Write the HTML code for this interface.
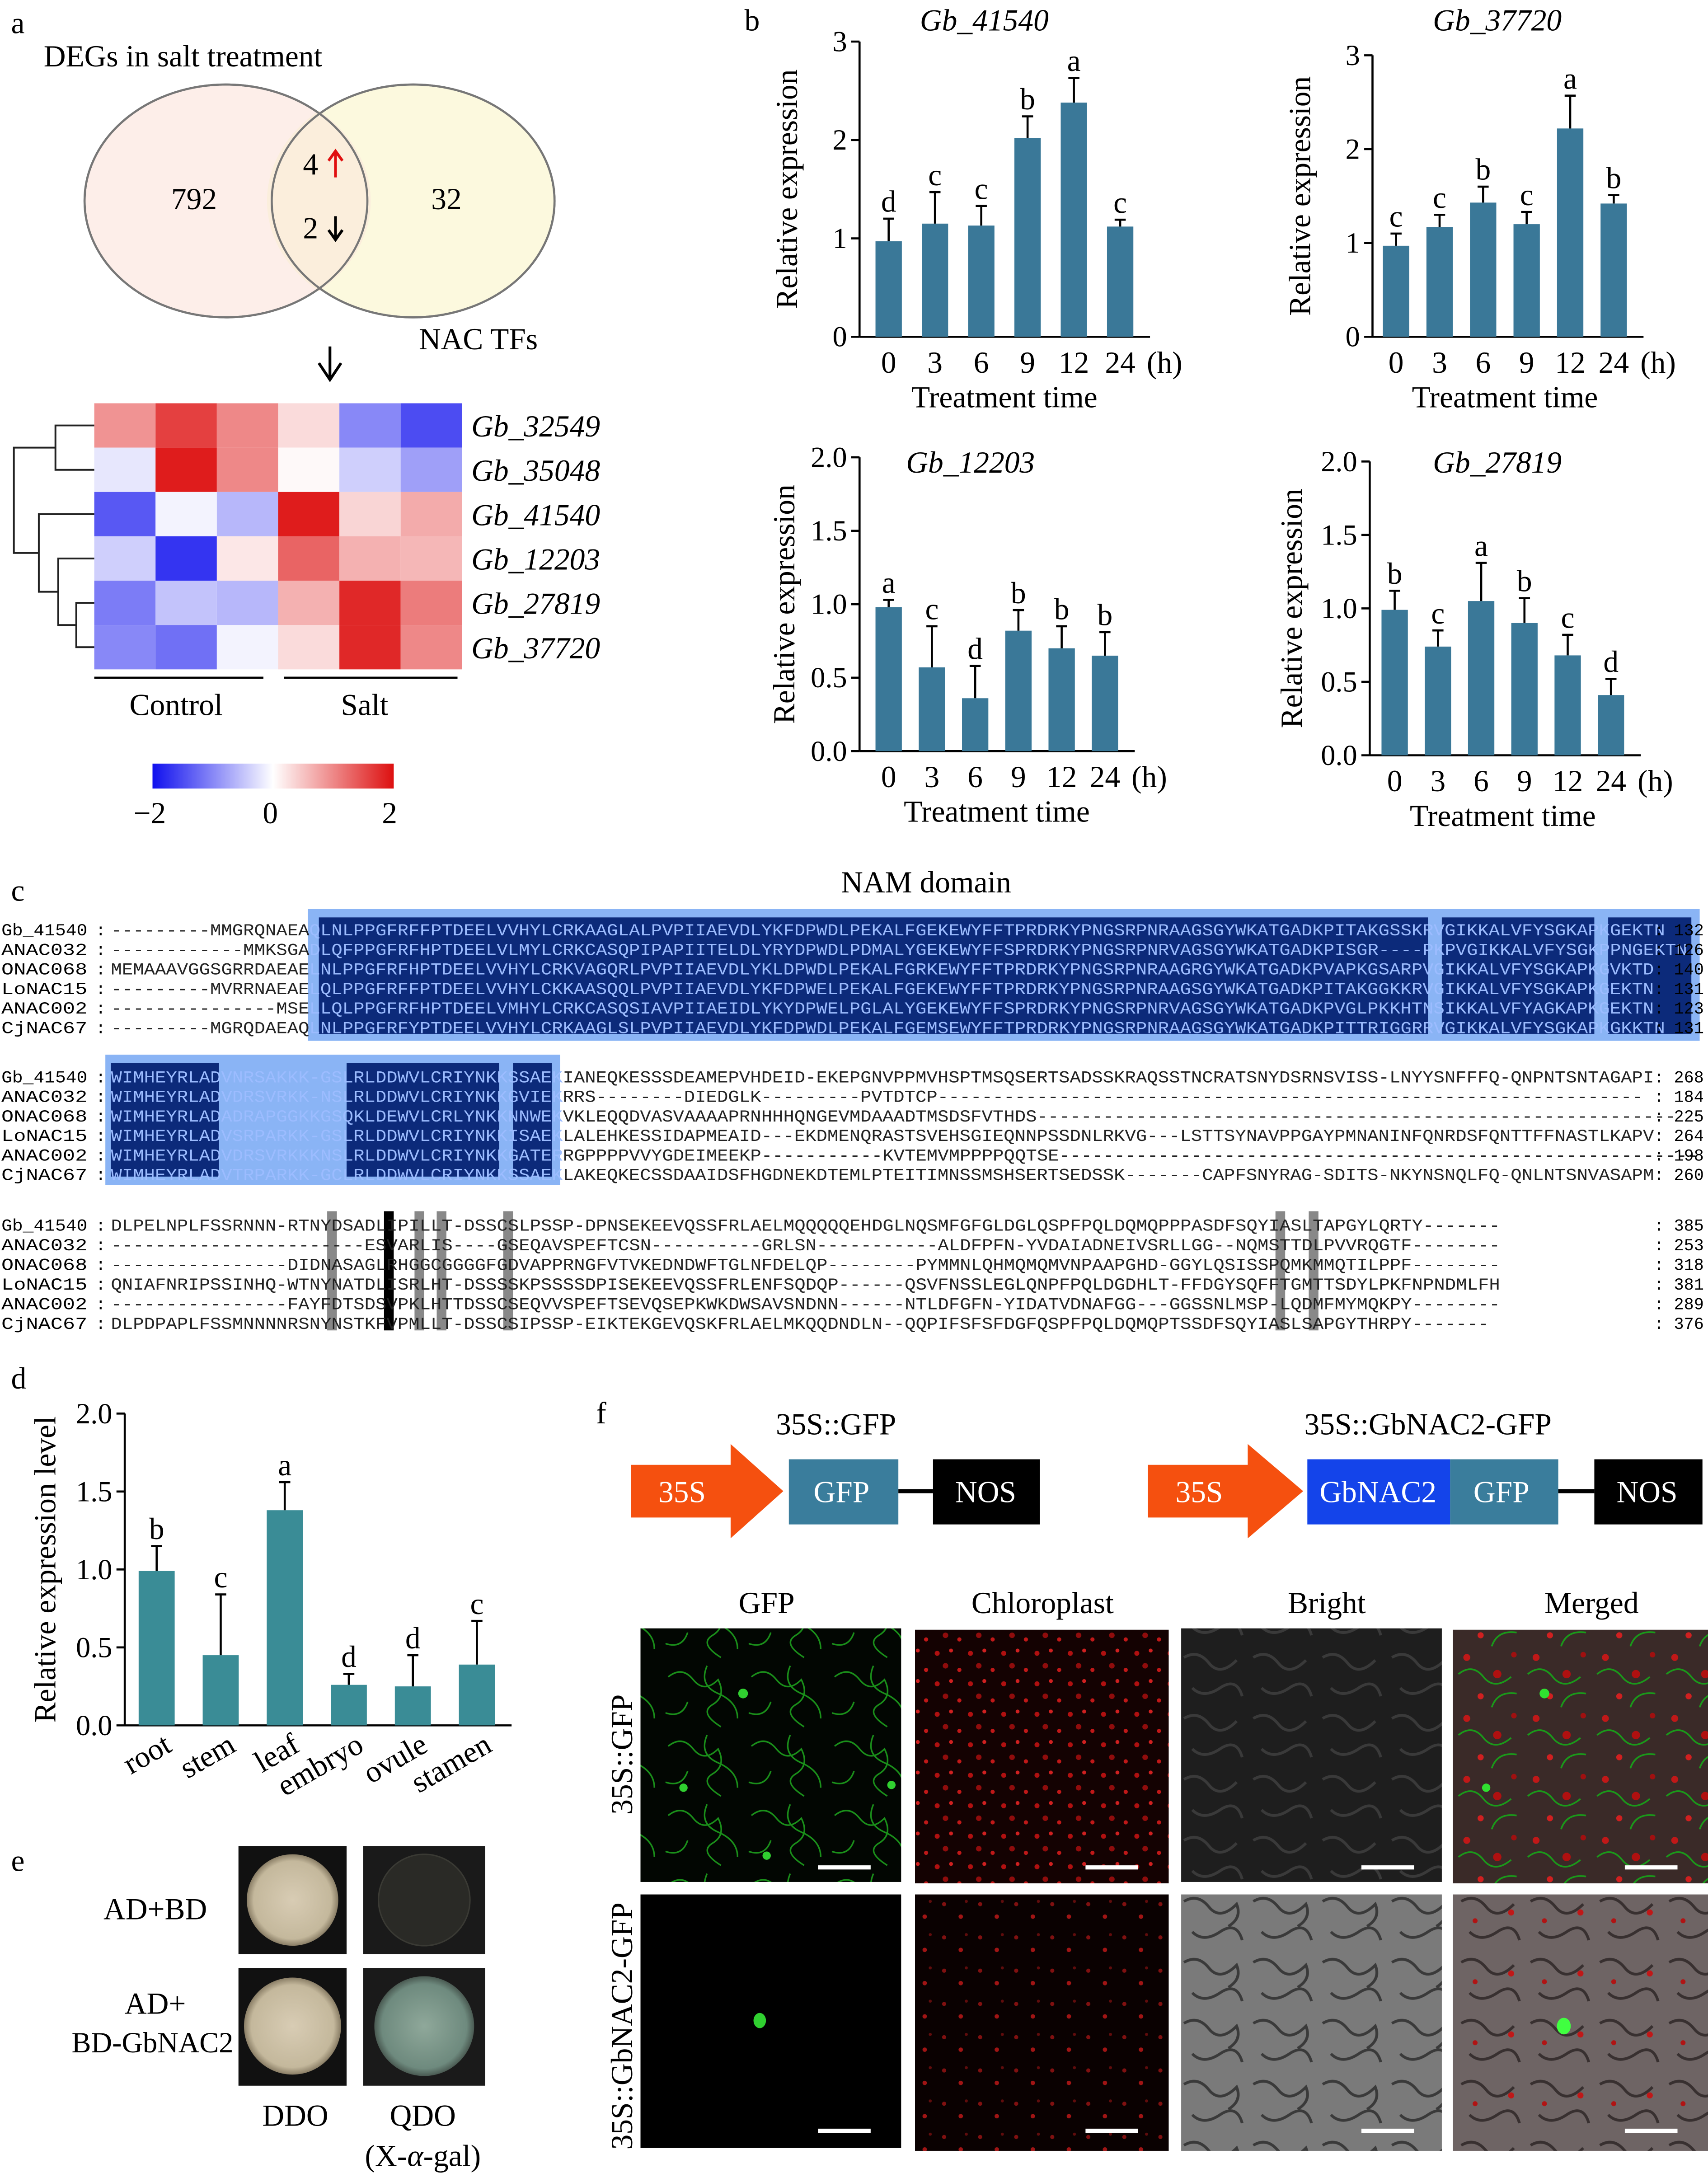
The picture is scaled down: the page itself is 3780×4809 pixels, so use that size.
<!DOCTYPE html>
<html><head><meta charset="utf-8"><style>
html,body{margin:0;padding:0;background:#fff}
svg{display:block}
text{font-family:"Liberation Serif",serif}
.mono{font-family:"Liberation Mono",monospace;font-size:12px}
</style></head><body>
<svg id="fig" xmlns="http://www.w3.org/2000/svg" width="3780" height="4809" viewBox="0 0 1232 1568" preserveAspectRatio="none">
<defs>
<pattern id="pGfp" width="60" height="50" patternUnits="userSpaceOnUse"><rect width="60" height="50" fill="#020602"/><path d="M2 10 q10 -8 18 2 t18 0 q6 12 -4 18 t6 16 M30 2 q-6 14 8 20 t14 18 M0 36 q12 4 16 -8" stroke="#1a901a" stroke-width="1.1" fill="none"/></pattern>
<pattern id="pChl" width="24" height="22" patternUnits="userSpaceOnUse"><rect width="24" height="22" fill="#140202"/><circle cx="4" cy="5" r="1.8" fill="#b01010"/><circle cx="14" cy="3" r="1.4" fill="#d02020"/><circle cx="10" cy="14" r="2" fill="#900c0c"/><circle cx="20" cy="17" r="1.5" fill="#c01818"/></pattern>
<pattern id="pChl2" width="26" height="24" patternUnits="userSpaceOnUse"><rect width="26" height="24" fill="#0a0101"/><circle cx="5" cy="6" r="1.5" fill="#801010"/><circle cx="17" cy="15" r="1.6" fill="#a01414"/><circle cx="21" cy="4" r="1.1" fill="#600c0c"/></pattern>
<pattern id="pBr" width="50" height="44" patternUnits="userSpaceOnUse"><rect width="50" height="44" fill="#1e1e1e"/><path d="M4 8 q10 -6 18 4 t20 -2 M10 30 q8 8 20 0 t16 6" stroke="#3a3a3a" stroke-width="2" fill="none"/></pattern>
<pattern id="pBr2" width="50" height="44" patternUnits="userSpaceOnUse"><rect width="50" height="44" fill="#7a7a7a"/><path d="M4 8 q10 -6 18 4 t20 -2 q4 10 -6 16 M10 30 q8 8 20 0 t16 6" stroke="#3a3a3a" stroke-width="2" fill="none"/></pattern>
<pattern id="pMer" width="50" height="44" patternUnits="userSpaceOnUse"><rect width="50" height="44" fill="#3a2a28"/><circle cx="8" cy="8" r="2.5" fill="#c01818"/><circle cx="30" cy="20" r="3" fill="#b01010"/><circle cx="18" cy="36" r="2.2" fill="#d02020"/><circle cx="42" cy="6" r="2" fill="#a01010"/><path d="M2 20 q10 -8 18 2 t20 0 M26 44 q4 -12 18 -10" stroke="#1a9a1a" stroke-width="1.2" fill="none"/></pattern>
<pattern id="pMer2" width="50" height="44" patternUnits="userSpaceOnUse"><rect width="50" height="44" fill="#6e6464"/><path d="M4 8 q10 -6 18 4 t20 -2 M10 30 q8 8 20 0 t16 6" stroke="#383030" stroke-width="2" fill="none"/><circle cx="40" cy="16" r="2.2" fill="#c01818"/><circle cx="14" cy="22" r="1.8" fill="#b01414"/></pattern>
<radialGradient id="plate1"><stop offset="0" stop-color="#d8ccb4"/><stop offset="0.85" stop-color="#c4b89c"/><stop offset="1" stop-color="#8a7e66"/></radialGradient>
<radialGradient id="plate2"><stop offset="0" stop-color="#8fa89a"/><stop offset="0.85" stop-color="#6e8a7e"/><stop offset="1" stop-color="#4a5a52"/></radialGradient>
<linearGradient id="cbar" x1="0" x2="1"><stop offset="0" stop-color="#1010ee"/><stop offset="0.5" stop-color="#ffffff"/><stop offset="1" stop-color="#dd1010"/></linearGradient>
</defs>

<!-- Panel a -->
<text x="8" y="24" font-size="22">a</text>
<text x="132" y="48" font-size="22" text-anchor="middle">DEGs in salt treatment</text>
<ellipse cx="163" cy="145" rx="102" ry="84" fill="#fdeee9" stroke="#777" stroke-width="1.5"/>
<ellipse cx="298" cy="145" rx="102" ry="84" fill="#fcf8d8" fill-opacity="0.85" stroke="#777" stroke-width="1.5"/>
<path d="M230 80 A102 84 0 0 1 230 210 A102 84 0 0 1 230 80Z" fill="#fbeedc"/>
<ellipse cx="163" cy="145" rx="102" ry="84" fill="none" stroke="#777" stroke-width="1.5"/>
<ellipse cx="298" cy="145" rx="102" ry="84" fill="none" stroke="#777" stroke-width="1.5"/>
<text x="140" y="151" font-size="22" text-anchor="middle">792</text>
<text x="322" y="151" font-size="22" text-anchor="middle">32</text>
<text x="224" y="126" font-size="22" text-anchor="middle">4</text>
<path d="M242 128 L242 110 M237 116 L242 109 L247 116" stroke="#e01010" stroke-width="2" fill="none"/>
<text x="224" y="172" font-size="22" text-anchor="middle">2</text>
<path d="M242 156 L242 172 M237 166 L242 173 L247 166" stroke="#000" stroke-width="2" fill="none"/>
<text x="345" y="252" font-size="22" text-anchor="middle">NAC TFs</text>
<path d="M238 250 L238 272 M230 262 L238 274 L246 262" stroke="#000" stroke-width="2" fill="none"/>
<g id="heatmap"></g>
<path d="M68 307 H40 V339 H68 M68 435 H55 V467 H68 M68 403 H42 V451 H55 M68 371 H28 V427 H42 M40 323 H10 V399 H28" stroke="#222" stroke-width="1.3" fill="none"/>
<line x1="68" y1="489" x2="190" y2="489" stroke="#000" stroke-width="1.5"/>
<line x1="205" y1="489" x2="330" y2="489" stroke="#000" stroke-width="1.5"/>
<text x="127" y="516" font-size="22" text-anchor="middle">Control</text>
<text x="263" y="516" font-size="22" text-anchor="middle">Salt</text>
<rect x="110" y="551" width="174" height="18" fill="url(#cbar)"/>
<text x="108" y="594" font-size="22" text-anchor="middle">−2</text>
<text x="195" y="594" font-size="22" text-anchor="middle">0</text>
<text x="281" y="594" font-size="22" text-anchor="middle">2</text>

<!-- Panel b -->
<text x="537" y="22" font-size="22">b</text>
<g id="charts"></g>

<!-- Panel c -->
<text x="8" y="650" font-size="22">c</text>
<text x="668" y="644" font-size="22" text-anchor="middle">NAM domain</text>
<rect x="222" y="656" width="1004" height="95" fill="#8ab4f5"/>
<rect x="230" y="662" width="800" height="84" fill="#0c2a7a"/>
<rect x="1040" y="662" width="110" height="84" fill="#0c2a7a"/>
<rect x="1160" y="662" width="60" height="84" fill="#0c2a7a"/>
<rect x="76" y="761" width="328" height="94" fill="#8ab4f5"/>
<rect x="80" y="767" width="78" height="82" fill="#0c2a7a"/>
<rect x="250" y="767" width="110" height="82" fill="#0c2a7a"/>
<rect x="370" y="767" width="28" height="82" fill="#0c2a7a"/>
<rect x="277" y="874" width="7" height="86" fill="#000"/>
<rect x="236" y="874" width="7" height="86" fill="#888"/>
<rect x="299" y="874" width="7" height="86" fill="#888"/>
<rect x="315" y="874" width="7" height="86" fill="#888"/>
<rect x="363" y="874" width="7" height="86" fill="#888"/>
<rect x="920" y="874" width="7" height="86" fill="#888"/>
<rect x="944" y="874" width="7" height="86" fill="#888"/>
<g id="align"></g>

<!-- Panel d -->
<text x="8" y="1002" font-size="22">d</text>
<g id="chartD"></g>

<!-- Panel e -->
<text x="8" y="1350" font-size="22">e</text>
<text x="112" y="1385" font-size="22" text-anchor="middle">AD+BD</text>
<text x="112" y="1453" font-size="22" text-anchor="middle">AD+</text>
<text x="110" y="1481" font-size="21" text-anchor="middle">BD-GbNAC2</text>
<rect x="172" y="1332" width="78" height="78" fill="#111"/>
<circle cx="211" cy="1371" r="33" fill="url(#plate1)"/>
<rect x="262" y="1332" width="88" height="78" fill="#1a1a1a"/>
<circle cx="306" cy="1371" r="33" fill="#2a2a26" stroke="#3a3a34"/>
<rect x="172" y="1420" width="78" height="85" fill="#111"/>
<circle cx="211" cy="1462" r="35" fill="url(#plate1)"/>
<rect x="262" y="1420" width="88" height="85" fill="#1a1a1a"/>
<circle cx="306" cy="1462" r="36" fill="url(#plate2)"/>
<text x="213" y="1534" font-size="22" text-anchor="middle">DDO</text>
<text x="305" y="1534" font-size="22" text-anchor="middle">QDO</text>
<text x="305" y="1563" font-size="22" text-anchor="middle">(X-<tspan font-style="italic">α</tspan>-gal)</text>

<!-- Panel f -->
<text x="430" y="1027" font-size="22">f</text>
<text x="603" y="1035" font-size="22" text-anchor="middle">35S::GFP</text>
<polygon points="455,1057 527,1057 527,1042 565,1076 527,1110 527,1095 455,1095" fill="#f5500f"/>
<text x="492" y="1084" font-size="22" fill="#fff" text-anchor="middle">35S</text>
<rect x="569" y="1053" width="79" height="47" fill="#3a7d9c"/>
<text x="607" y="1084" font-size="22" fill="#fff" text-anchor="middle">GFP</text>
<line x1="648" y1="1076" x2="673" y2="1076" stroke="#000" stroke-width="3"/>
<rect x="673" y="1053" width="77" height="47" fill="#000"/>
<text x="711" y="1084" font-size="22" fill="#fff" text-anchor="middle">NOS</text>
<text x="1030" y="1035" font-size="22" text-anchor="middle">35S::GbNAC2-GFP</text>
<polygon points="828,1057 900,1057 900,1042 940,1076 900,1110 900,1095 828,1095" fill="#f5500f"/>
<text x="865" y="1084" font-size="22" fill="#fff" text-anchor="middle">35S</text>
<rect x="943" y="1053" width="103" height="47" fill="#1444ea"/>
<text x="994" y="1084" font-size="22" fill="#fff" text-anchor="middle">GbNAC2</text>
<rect x="1046" y="1053" width="78" height="47" fill="#3a7d9c"/>
<text x="1083" y="1084" font-size="22" fill="#fff" text-anchor="middle">GFP</text>
<line x1="1124" y1="1076" x2="1150" y2="1076" stroke="#000" stroke-width="3"/>
<rect x="1150" y="1053" width="78" height="47" fill="#000"/>
<text x="1188" y="1084" font-size="22" fill="#fff" text-anchor="middle">NOS</text>
<text x="553" y="1164" font-size="22" text-anchor="middle">GFP</text>
<text x="752" y="1164" font-size="22" text-anchor="middle">Chloroplast</text>
<text x="957" y="1164" font-size="22" text-anchor="middle">Bright</text>
<text x="1148" y="1164" font-size="22" text-anchor="middle">Merged</text>
<text transform="translate(456,1266) rotate(-90)" font-size="22" text-anchor="middle">35S::GFP</text>
<text transform="translate(456,1462) rotate(-90)" font-size="22" text-anchor="middle">35S::GbNAC2-GFP</text>
<rect x="462" y="1175" width="188" height="183" fill="url(#pGfp)"/>
<circle cx="536" cy="1222" r="3.5" fill="#30d030"/><circle cx="493" cy="1290" r="3" fill="#30d030"/><circle cx="553" cy="1339" r="3" fill="#30d030"/><circle cx="643" cy="1288" r="3" fill="#30d030"/>
<rect x="660" y="1176" width="183" height="183" fill="url(#pChl)"/>
<rect x="852" y="1175" width="188" height="183" fill="url(#pBr)"/>
<rect x="1048" y="1176" width="184" height="183" fill="url(#pMer)"/>
<circle cx="1114" cy="1222" r="3.5" fill="#30e030"/><circle cx="1072" cy="1290" r="3" fill="#30e030"/>
<rect x="462" y="1367" width="188" height="183" fill="#000"/>
<ellipse cx="548" cy="1458" rx="4.5" ry="5.5" fill="#30d030"/>
<rect x="660" y="1367" width="183" height="185" fill="url(#pChl2)"/>
<rect x="852" y="1367" width="188" height="185" fill="url(#pBr2)"/>
<rect x="1048" y="1367" width="184" height="185" fill="url(#pMer2)"/>
<ellipse cx="1128" cy="1462" rx="5" ry="6" fill="#40ff40"/>
<g fill="#fff">
<rect x="590" y="1346" width="38" height="3"/><rect x="783" y="1346" width="38" height="3"/><rect x="982" y="1346" width="38" height="3"/><rect x="1172" y="1346" width="38" height="3"/>
<rect x="590" y="1536" width="38" height="3"/><rect x="783" y="1536" width="38" height="3"/><rect x="982" y="1536" width="38" height="3"/><rect x="1172" y="1536" width="38" height="3"/>
</g>
</svg>
<script>
var NS="http://www.w3.org/2000/svg";
function mk(tag,attrs,parent,txt){var e=document.createElementNS(NS,tag);for(var k in attrs)e.setAttribute(k,attrs[k]);if(txt!==undefined)e.textContent=txt;parent.appendChild(e);return e;}

// Heatmap data
var hmGenes=["Gb_32549","Gb_35048","Gb_41540","Gb_12203","Gb_27819","Gb_37720"];
var hmValues=[
 [0.9,1.6,1.0,0.3,-1.0,-1.5],
 [-0.2,1.9,1.0,0.05,-0.4,-0.8],
 [-1.4,-0.1,-0.6,1.9,0.35,0.7],
 [-0.4,-1.7,0.2,1.3,0.65,0.6],
 [-1.1,-0.5,-0.6,0.65,1.8,1.1],
 [-1.0,-1.2,-0.1,0.3,1.8,1.0]];
function hmColor(v){var t=Math.max(-1,Math.min(1,v/2));var r,g,b;
 if(t<0){var s=-t;r=Math.round(255-s*239);g=Math.round(255-s*239);b=Math.round(255-s*17);}
 else{r=Math.round(255-t*34);g=Math.round(255-t*239);b=Math.round(255-t*239);}
 return "rgb("+r+","+g+","+b+")";}
var hm=document.getElementById("heatmap");
for(var i=0;i<hmGenes.length;i++){
 for(var j=0;j<6;j++){
  var c=mk("rect",{x:68+j*44.2,y:291+i*32,width:44.2,height:32,fill:hmColor(hmValues[i][j])},hm);
  
  
 }
 var l=mk("text",{x:340,y:315+i*32,"font-size":22,"font-style":"italic"},hm,hmGenes[i]);
 
 
}

// Bar chart data
var timeLabels=["0","3","6","9","12","24"];
var g41540Values=[0.97,1.15,1.13,2.02,2.38,1.12];
var g41540Err=[0.23,0.32,0.2,0.22,0.25,0.07];
var g41540Letters=["d","c","c","b","a","c"];
var g37720Values=[0.97,1.17,1.43,1.2,2.22,1.42];
var g37720Err=[0.13,0.13,0.17,0.13,0.35,0.09];
var g37720Letters=["c","c","b","c","a","b"];
var g12203Values=[0.98,0.57,0.36,0.82,0.7,0.65];
var g12203Err=[0.05,0.28,0.22,0.14,0.15,0.16];
var g12203Letters=["a","c","d","b","b","b"];
var g27819Values=[0.99,0.74,1.05,0.9,0.68,0.41];
var g27819Err=[0.13,0.11,0.26,0.17,0.14,0.11];
var g27819Letters=["b","c","a","b","c","d"];
var ticksInt=[0,1,2,3];
var ticksHalf=[0,0.5,1.0,1.5,2.0];
var tissueLabels=["root","stem","leaf","embryo","ovule","stamen"];
var tissueValues=[0.99,0.45,1.38,0.26,0.25,0.39];
var tissueErr=[0.16,0.39,0.18,0.07,0.2,0.28];
var tissueLetters=["b","c","a","d","d","c"];

function barChart(p){
 var g=mk("g",{},p.parent);
 
 
 function y(v){return p.y0-v*p.ppu;}
 function x(i){return p.x1+i*p.sp;}
 var top=y(p.ticks[p.ticks.length-1]);
 mk("line",{x1:p.ax,y1:top,x2:p.ax,y2:p.y0,stroke:"#000","stroke-width":1.5},g);
 mk("line",{x1:p.ax,y1:p.y0,x2:x(p.vals.length-1)+p.bw/2+12,y2:p.y0,stroke:"#000","stroke-width":1.5},g);
 p.ticks.forEach(function(t){
  mk("line",{x1:p.ax-6,y1:y(t),x2:p.ax,y2:y(t),stroke:"#000","stroke-width":1.5},g);
  var tl=mk("text",{x:p.ax-9,y:y(t)+7,"font-size":21,"text-anchor":"end"},g,p.fmt(t));
  
  
 });
 p.vals.forEach(function(v,i){
  var b=mk("rect",{x:x(i)-p.bw/2,y:y(v),width:p.bw,height:p.y0-y(v),fill:p.color},g);
  
  
  var et=y(v+p.err[i]);
  mk("path",{d:"M"+x(i)+" "+y(v)+" V"+et+" M"+(x(i)-4)+" "+et+" H"+(x(i)+4),stroke:"#000","stroke-width":1.5,fill:"none"},g);
  var lt=mk("text",{x:x(i),y:et-5,"font-size":22,"text-anchor":"middle"},g,p.letters[i]);
  
  
  if(p.rot){
   var xl=mk("text",{transform:"translate("+(x(i)+12)+","+(p.y0+18)+") rotate(-30)","font-size":22,"text-anchor":"end"},g,p.labels[i]);
   
   
  } else {
   var xl2=mk("text",{x:x(i),y:p.y0+26,"font-size":22,"text-anchor":"middle"},g,p.labels[i]);
   
   
  }
 });
 if(!p.rot){
  var h=mk("text",{x:x(p.vals.length-1)+32,y:p.y0+26,"font-size":22,"text-anchor":"middle"},g,"(h)");
  
  
  var xt=mk("text",{x:(p.x1+x(5))/2,y:p.y0+51,"font-size":22,"text-anchor":"middle"},g,"Treatment time");
  
  
 }
 if(p.title){
  var tt=mk("text",{x:p.tx,y:p.ty,"font-size":22,"font-style":"italic","text-anchor":"middle"},g,p.title);
  
  
 }
 var yt=mk("text",{transform:"translate("+p.ylx+","+((p.y0+top)/2)+") rotate(-90)","font-size":22,"text-anchor":"middle"},g,p.ytitle);
 
 
}
var ch=document.getElementById("charts");
var fInt=function(t){return String(t);}, fHalf=function(t){return t.toFixed(1);};
barChart({parent:ch,name:"chart-gb41540",ax:620,y0:243,ppu:71,x1:641,sp:33.4,bw:19,ticks:ticksInt,fmt:fInt,vals:g41540Values,err:g41540Err,letters:g41540Letters,labels:timeLabels,color:"#3a7898",title:"Gb_41540",tx:710,ty:22,ylx:575,ytitle:"Relative expression"});
barChart({parent:ch,name:"chart-gb37720",ax:990,y0:243,ppu:67.7,x1:1007,sp:31.4,bw:19,ticks:ticksInt,fmt:fInt,vals:g37720Values,err:g37720Err,letters:g37720Letters,labels:timeLabels,color:"#3a7898",title:"Gb_37720",tx:1080,ty:22,ylx:945,ytitle:"Relative expression"});
barChart({parent:ch,name:"chart-gb12203",ax:620,y0:542,ppu:106,x1:641,sp:31.2,bw:19,ticks:ticksHalf,fmt:fHalf,vals:g12203Values,err:g12203Err,letters:g12203Letters,labels:timeLabels,color:"#3a7898",title:"Gb_12203",tx:700,ty:341,ylx:573,ytitle:"Relative expression"});
barChart({parent:ch,name:"chart-gb27819",ax:988,y0:545,ppu:106,x1:1006,sp:31.2,bw:19,ticks:ticksHalf,fmt:fHalf,vals:g27819Values,err:g27819Err,letters:g27819Letters,labels:timeLabels,color:"#3a7898",title:"Gb_27819",tx:1080,ty:341,ylx:939,ytitle:"Relative expression"});
barChart({parent:document.getElementById("chartD"),name:"chart-tissue",rot:true,ax:90,y0:1245,ppu:112.5,x1:113,sp:46.2,bw:26,ticks:ticksHalf,fmt:fHalf,vals:tissueValues,err:tissueErr,letters:tissueLetters,labels:tissueLabels,color:"#3a8c96",ylx:40,ytitle:"Relative expression level"});

// Alignment
var names=["Gb_41540","ANAC032","ONAC068","LoNAC15","ANAC002","CjNAC67"];
var blocks=[
 {y:671,sp:14.1,split:18,first:"#222",second:"#9cbcff",nums:["132","126","140","131","123","131"],seq:[
 "---------MMGRQNAEAQLNLPPGFRFFPTDEELVVHYLCRKAAGLALPVPIIAEVDLYKFDPWDLPEKALFGEKEWYFFTPRDRKYPNGSRPNRAAGSGYWKATGADKPITAKGSSKRVGIKKALVFYSGKAPKGEKTN",
 "------------MMKSGADLQFPPGFRFHPTDEELVLMYLCRKCASQPIPAPIITELDLYRYDPWDLPDMALYGEKEWYFFSPRDRKYPNGSRPNRVAGSGYWKATGADKPISGR----PKPVGIKKALVFYSGKPPNGEKTN",
 "MEMAAAVGGSGRRDAEAELNLPPGFRFHPTDEELVVHYLCRKVAGQRLPVPIIAEVDLYKLDPWDLPEKALFGRKEWYFFTPRDRKYPNGSRPNRAAGRGYWKATGADKPVAPKGSARPVGIKKALVFYSGKAPKGVKTD",
 "---------MVRRNAEAELQLPPGFRFFPTDEELVVHYLCKKAASQQLPVPIIAEVDLYKFDPWELPEKALFGEKEWYFFTPRDRKYPNGSRPNRAAGSGYWKATGADKPITAKGGKKRVGIKKALVFYSGKAPKGEKTN",
 "---------------MSELLQLPPGFRFHPTDEELVMHYLCRKCASQSIAVPIIAEIDLYKYDPWELPGLALYGEKEWYFFSPRDRKYPNGSRPNRVAGSGYWKATGADKPVGLPKKHTNSIKKALVFYAGKAPKGEKTN",
 "---------MGRQDAEAQLNLPPGFRFYPTDEELVVHYLCRKAAGLSLPVPIIAEVDLYKFDPWDLPEKALFGEMSEWYFFTPRDRKYPNGSRPNRAAGSGYWKATGADKPITTRIGGRRVGIKKALVFYSGKAPKGKKTN"]},
 {y:777,sp:14.1,split:41,first:"#9cbcff",second:"#222",nums:["268","184","225","264","198","260"],seq:[
 "WIMHEYRLADVNRSAKKK-GSLRLDDWVLCRIYNKKSSAEKIANEQKESSSDEAMEPVHDEID-EKEPGNVPPMVHSPTMSQSERTSADSSKRAQSSTNCRATSNYDSRNSVISS-LNYYSNFFFQ-QNPNTSNTAGAPI",
 "WIMHEYRLADVDRSVRKK-NSLRLDDWVLCRIYNKKGVIEKRRS--------DIEDGLK---------PVTDTCP----------------------------------------------------------------",
 "WIMHEYRLADADRAPGGKKGSQKLDEWVLCRLYNKKNNWEKVKLEQQDVASVAAAAPRNHHHQNGEVMDAAADTMSDSFVTHDS----------------------------------------------------------",
 "WIMHEYRLADVSRPARKK-GSLRLDDWVLCRIYNKKISAEKLALEHKESSIDAPMEAID---EKDMENQRASTSVEHSGIEQNNPSSDNLRKVG---LSTTSYNAVPPGAYPMNANINFQNRDSFQNTTFFNASTLKAPV",
 "WIMHEYRLADVDRSVRKKKNSLRLDDWVLCRIYNKKGATERRGPPPPVVYGDEIMEEKP-----------KVTEMVMPPPPQQTSE----------------------------------------------------------",
 "WIMHEYRLADVTRPARKK-GCLRLDDWVLCRIYNKKSSAEKLAKEQKECSSDAAIDSFHGDNEKDTEMLPTEITIMNSSMSHSERTSEDSSK-------CAPFSNYRAG-SDITS-NKYNSNQLFQ-QNLNTSNVASAPM"]},
 {y:884,sp:14.2,split:0,first:"#222",second:"#222",nums:["385","253","318","381","289","376"],seq:[
 "DLPELNPLFSSRNNN-RTNYDSADLIPILLT-DSSCSLPSSP-DPNSEKEEVQSSFRLAELMQQQQQEHDGLNQSMFGFGLDGLQSPFPQLDQMQPPPASDFSQYIASLTAPGYLQRTY-------",
 "-----------------------ESVARLIS----GSEQAVSPEFTCSN----------GRLSN-----------ALDFPFN-YVDAIADNEIVSRLLGG--NQMSTTDLPVVRQGTF--------",
 "----------------DIDNASAGLRHGGCGGGGFGDVAPPRNGFVTVKEDNDWFTGLNFDELQP--------PYMMNLQHMQMQMVNPAAPGHD-GGYLQSISSPQMKMMQTILPPF--------",
 "QNIAFNRIPSSINHQ-WTNYNATDLISRLHT-DSSSSKPSSSSDPISEKEEVQSSFRLENFSQDQP------QSVFNSSLEGLQNPFPQLDGDHLT-FFDGYSQFFTGMTTSDYLPKFNPNDMLFH",
 "----------------FAYFDTSDSVPKLHTTDSSCSEQVVSPEFTSEVQSEPKWKDWSAVSNDNN------NTLDFGFN-YIDATVDNAFGG---GGSSNLMSP-LQDMFMYMQKPY--------",
 "DLPDPAPLFSSMNNNNRSNYNSTKFVPMLLT-DSSCSIPSSP-EIKTEKGEVQSKFRLAELMKQQDNDLN--QQPIFSFSFDGFQSPFPQLDQMQPTSSDFSQYIASLSAPGYTHRPY-------"]}];
var al=document.getElementById("align");
blocks.forEach(function(b,bi){
 for(var r=0;r<6;r++){
  var yy=b.y+r*b.sp+4;
  mk("text",{x:1,y:yy,"class":"mono",textLength:62,lengthAdjust:"spacingAndGlyphs"},al,names[r]);
  mk("text",{x:69,y:yy,"class":"mono"},al,":");
  var s=b.seq[r];
  var t=mk("text",{x:80,y:yy,"class":"mono",textLength:Math.round(s.length*7.95),lengthAdjust:"spacingAndGlyphs"},al);
  
  
  mk("tspan",{fill:b.first},t,s.slice(0,b.split));
  mk("tspan",{fill:b.second},t,s.slice(b.split));
  mk("text",{x:1229,y:yy,"class":"mono","text-anchor":"end"},al,": "+b.nums[r]);
 }
});
</script>
</body></html>
